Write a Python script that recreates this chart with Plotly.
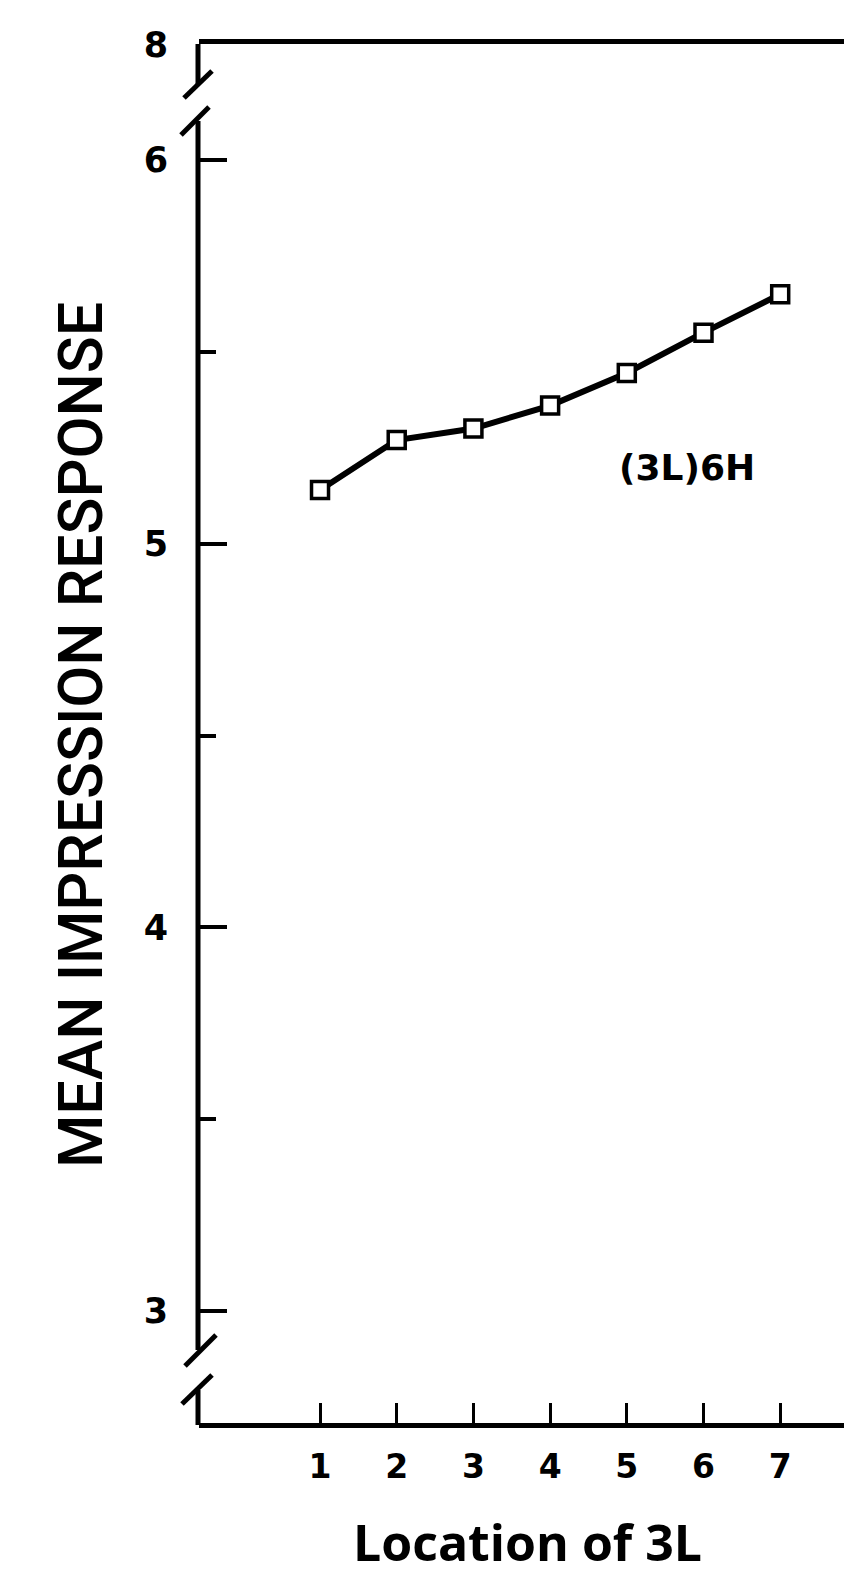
import plotly.graph_objects as go

# ---- data ----
locations = [1, 2, 3, 4, 5, 6, 7]
mean_response = [5.14, 5.27, 5.30, 5.36, 5.445, 5.55, 5.65]
x_tick_labels = ["1", "2", "3", "4", "5", "6", "7"]
y_tick_vals = [3, 4, 5, 6, 6.30]
y_tick_text = ["3", "4", "5", "6", "8"]
y_minor_vals = [3.5, 4.5, 5.5]
series_label = "(3L)6H"
x_title = "Location of 3L"
y_title = "MEAN IMPRESSION RESPONSE"

# ---- layout geometry (screen pixels) ----
W, H = 864, 1582
OFF = 8  # default page body margin
L, R, T, B = 199, 844, 44, 1423
PW, PH = R - L, B - T


def dx(px):
    return (px - L) / PW


def dy(py):
    return (B - py) / PH


fig = go.Figure()
fig.add_trace(go.Scatter(
    x=locations, y=mean_response, mode="lines+markers",
    line=dict(color="black", width=6),
    marker=dict(symbol="square", size=17, color="white",
                line=dict(color="black", width=3.5)),
    showlegend=False, cliponaxis=False,
))

fig.add_annotation(x=dx(687), y=dy(468), xref="paper", yref="paper", text=series_label,
                   showarrow=False, xanchor="center", yanchor="middle",
                   font=dict(family="DejaVu Sans", size=36, color="black", weight="bold"))

# axis titles
fig.add_annotation(x=dx(527), y=dy(1542), xref="paper", yref="paper", text=x_title,
                   showarrow=False, xanchor="center", yanchor="middle",
                   font=dict(family="Open Sans", size=50, color="black", weight="bold"))
fig.add_annotation(x=dx(81), y=dy(735), xref="paper", yref="paper", text=y_title,
                   showarrow=False, textangle=-90, xanchor="center", yanchor="middle",
                   font=dict(family="Roboto", size=61, color="black", weight=500))

# left axis with break marks
segs = [
    ((198, 44), (198, 84)),
    ((212, 71), (184, 98)),
    ((209, 107), (181, 135)),
    ((198, 121), (198, 1350)),
    ((216, 1335), (185, 1366)),
    ((212, 1375), (182, 1404)),
    ((198, 1390), (198, 1425)),
]
for (x0, y0), (x1, y1) in segs:
    fig.add_shape(type="line", xref="x domain", yref="y domain",
                  x0=dx(x0), y0=dy(y0), x1=dx(x1), y1=dy(y1),
                  line=dict(color="black", width=5), layer="above")

ytickfont = dict(family="DejaVu Sans", size=35, color="black", weight="bold")
xtickfont = dict(family="DejaVu Sans", size=33, color="black", weight="bold")
fig.update_xaxes(range=[-0.578, 7.832], tickvals=locations, ticktext=x_tick_labels,
                 ticks="inside", ticklen=20, tickwidth=3, tickcolor="black",
                 showline=True, linewidth=5, linecolor="black", mirror=True,
                 showgrid=False, zeroline=False, tickfont=xtickfont,
                 ticklabelstandoff=10)
fig.update_yaxes(range=[2.7084, 6.3023], tickvals=y_tick_vals, ticktext=y_tick_text,
                 ticks="inside", ticklen=28, tickwidth=4, tickcolor="black",
                 minor=dict(tickmode="array", tickvals=y_minor_vals, ticks="inside",
                            ticklen=17, tickwidth=4, tickcolor="black", showgrid=False),
                 showline=False, showgrid=False, zeroline=False, tickfont=ytickfont,
                 ticklabelstandoff=30)

fig.update_layout(width=W, height=H,
                  margin=dict(l=L - OFF, r=W - (R - OFF), t=T - OFF, b=H - (B - OFF)),
                  plot_bgcolor="white", paper_bgcolor="white")
fig.write_html("out.html")
